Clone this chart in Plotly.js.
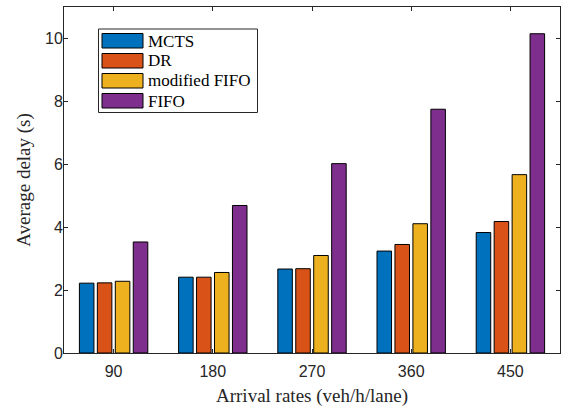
<!DOCTYPE html>
<html>
<head>
<meta charset="utf-8">
<script src="https://cdn.plot.ly/plotly-3.0.1.min.js"></script>
<style>html,body{margin:0;padding:0;background:#fff;}#chart{width:566px;height:409px;}</style>
</head>
<body>
<div id="chart"></div>
<script>
var categories = ["90", "180", "270", "360", "450"];
var seriesNames = ["MCTS", "DR", "modified FIFO", "FIFO"];
var mcts = [2.22, 2.41, 2.67, 3.24, 3.83];
var dr = [2.23, 2.41, 2.68, 3.45, 4.18];
var modFifo = [2.28, 2.56, 3.10, 4.11, 5.67];
var fifo = [3.53, 4.69, 6.02, 7.75, 10.15];
var colors = ["#0072BD", "#D95319", "#EDB120", "#7E2F8E"];
var yTicks = [0, 2, 4, 6, 8, 10];

var serif = "Liberation Serif, Times New Roman, serif";
var sans = "Liberation Sans, Arial, sans-serif";
var W = 566, H = 409;
var M = {l: 64, r: 6, t: 7, b: 56};
var plotW = W - M.l - M.r, plotH = H - M.t - M.b;
function px(x){ return (x - M.l) / plotW; }
function py(y){ return (H - M.b - y) / plotH; }

var allSeries = [mcts, dr, modFifo, fifo];
var xs = categories.map(function(c, i){ return i + 1; });
var traces = allSeries.map(function(vals, k){
  return {
    type: "bar", x: xs, y: vals, name: seriesNames[k],
    marker: {color: colors[k], line: {color: "#000000", width: 1}}
  };
});

// manual legend (MATLAB style wide swatches)
var shapes = [{
  type: "rect", xref: "paper", yref: "paper",
  x0: px(98.5), x1: px(257.5), y0: py(112.5), y1: py(29),
  fillcolor: "#ffffff", line: {color: "#262626", width: 1}, layer: "above"
}];
var annotations = [];
seriesNames.forEach(function(name, k){
  var top = 33.5 + 20 * k;
  shapes.push({
    type: "rect", xref: "paper", yref: "paper",
    x0: px(102), x1: px(143), y0: py(top + 14.5), y1: py(top),
    fillcolor: colors[k], line: {color: "#000000", width: 1}, layer: "above"
  });
  annotations.push({
    xref: "paper", yref: "paper", x: px(145.5), y: py(top + 7.5),
    xanchor: "left", yanchor: "middle", showarrow: false, text: name,
    font: {family: serif, size: 17, color: "#000000"}
  });
});

var layout = {
  width: W, height: H,
  margin: M,
  paper_bgcolor: "#ffffff", plot_bgcolor: "#ffffff",
  barmode: "group", bargap: 0.276, bargroupgap: 0.19,
  showlegend: false,
  shapes: shapes, annotations: annotations,
  xaxis: {
    range: [0.5, 5.5], tickmode: "array", tickvals: xs, ticktext: categories,
    ticks: "inside", ticklen: 4, tickcolor: "#262626", tickwidth: 1,
    showline: true, linecolor: "#262626", linewidth: 1, mirror: "ticks",
    showgrid: false, zeroline: false, ticklabelstandoff: 4,
    tickfont: {family: sans, size: 16, color: "#262626"},
    title: {text: "Arrival rates (veh/h/lane)", font: {family: serif, size: 19, color: "#262626"}, standoff: 9}
  },
  yaxis: {
    range: [0, 11], tickmode: "array", tickvals: yTicks,
    ticks: "inside", ticklen: 4, tickcolor: "#262626", tickwidth: 1,
    showline: true, linecolor: "#262626", linewidth: 1, mirror: "ticks",
    showgrid: false, zeroline: false, ticklabelstandoff: -3,
    tickfont: {family: sans, size: 16, color: "#262626"},
    title: {text: "Average delay (s)", font: {family: serif, size: 19, color: "#262626"}, standoff: 9}
  }
};
Plotly.newPlot("chart", traces, layout, {displayModeBar: false, staticPlot: true});
</script>
</body>
</html>
